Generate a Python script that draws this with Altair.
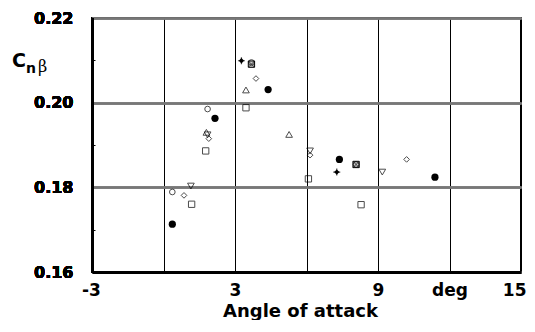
import altair as alt
import pandas as pd

# ---- data ----
filled_circle_x = [0.37, 2.16, 4.39, 7.38, 11.39]
filled_circle_y = [0.1713, 0.1963, 0.2031, 0.1866, 0.1824]

open_circle_x = [0.37, 1.85, 3.69, 8.08]
open_circle_y = [0.1789, 0.1985, 0.2095, 0.1854]

diamond_x = [0.86, 1.90, 3.88, 6.15, 10.20]
diamond_y = [0.1781, 0.1915, 0.2057, 0.1876, 0.1866]

triangle_x = [1.80, 3.46, 5.27]
triangle_y = [0.1930, 0.2030, 0.1925]

inv_triangle_x = [1.15, 1.85, 6.15, 9.18]
inv_triangle_y = [0.1803, 0.1924, 0.1886, 0.1836]

square_x = [1.18, 1.77, 3.46, 6.08, 8.29]
square_y = [0.1760, 0.1886, 0.1988, 0.1820, 0.1759]

boxed_x_x = [3.69, 8.08]
boxed_x_y = [0.2091, 0.1854]

diamond_plus_x = [3.27, 7.27]
diamond_plus_y = [0.2099, 0.1836]

x_ticks = [-3, 0, 3, 6, 9, 12, 15]
x_tick_labels = ["-3", "", "3", "", "9", "deg", "15"]
y_ticks = [0.16, 0.18, 0.20, 0.22]
y_minor = [0.17, 0.19, 0.21]

FONT = "DejaVu Sans"

xscale = alt.Scale(domain=[-3, 15], nice=False, zero=False)
yscale = alt.Scale(domain=[0.16, 0.22], nice=False, zero=False)

label_expr = "[" + ",".join("'" + s + "'" for s in x_tick_labels) + "][indexof(" + str(x_ticks) + ", datum.value)]"

x_axis = alt.Axis(
    values=x_ticks, grid=True, gridColor="#000000", gridWidth=1, gridOpacity=1,
    ticks=False, domain=True, domainColor="#000000", domainWidth=3,
    labelExpr=label_expr,
    labelAlign={"expr": "datum.value == 15 ? 'right' : 'center'"},
    labelOffset={"expr": "datum.value == 15 ? 5 : (datum.value == -3 ? -1 : 0)"},
    labelFont=FONT, labelFontSize=17, labelFontWeight="bold", labelColor="#000000",
    labelPadding=10, title="Angle of attack", titleFont=FONT, titleFontSize=18,
    titleFontWeight="bold", titleColor="#000000", titlePadding=4, titleX=208,
    labelFlush=False, labelOverlap=False,
)
y_axis = alt.Axis(
    values=y_ticks, grid=True, gridColor="#777777", gridWidth=1.5, gridOpacity=1,
    ticks=False, domain=True, domainColor="#000000", domainWidth=3, format=".2f",
    labelFont=FONT, labelFontSize=16, labelFontWeight="bold", labelColor="#000000",
    labelPadding=19, title=None, orient="left",
)
y_minor_axis = alt.Axis(
    values=y_minor, grid=False, ticks=True, tickSize=3, tickColor="#000000", tickWidth=1,
    labels=False, domain=False, title=None, orient="left", offset=-3,
)


def pts(xs, ys, **kw):
    df = pd.DataFrame({"x": xs, "y": ys})
    return alt.Chart(df).mark_point(**kw).encode(
        x=alt.X("x:Q", scale=xscale, axis=x_axis),
        y=alt.Y("y:Q", scale=yscale, axis=y_axis),
    )


layers = [
    pts(square_x, square_y, shape="square", size=40, filled=False, color="#000000", strokeWidth=1),
    pts(boxed_x_x, boxed_x_y, shape="square", size=40, filled=True, fill="#cccccc", stroke="#000000", strokeWidth=1, opacity=1),
    pts(boxed_x_x, boxed_x_y, shape="M-1,-1L1,1M-1,1L1,-1", size=32, filled=False, color="#000000", strokeWidth=1),
    pts(open_circle_x, open_circle_y, shape="circle", size=32, filled=False, color="#000000", strokeWidth=1),
    pts(filled_circle_x, filled_circle_y, shape="circle", size=52, filled=True, color="#000000", opacity=1),
    pts(diamond_x, diamond_y, shape="diamond", size=32, filled=False, color="#000000", strokeWidth=1),
    pts(triangle_x, triangle_y, shape="triangle-up", size=45, filled=False, color="#000000", strokeWidth=1),
    pts(inv_triangle_x, inv_triangle_y, shape="triangle-down", size=45, filled=False, color="#000000", strokeWidth=1),
    pts(diamond_plus_x, diamond_plus_y, shape="diamond", size=28, filled=True, color="#000000", opacity=1),
    pts(diamond_plus_x, diamond_plus_y, shape="M-1,0L1,0M0,-1L0,1", size=49, filled=False, color="#000000", strokeWidth=1.2),
]

minor = alt.Chart(pd.DataFrame({"y": y_minor})).mark_point(opacity=0).encode(
    y=alt.Y("y:Q", scale=yscale, axis=y_minor_axis)
)

lab = pd.DataFrame({"t": ["x"]})
c_txt = alt.Chart(lab).mark_text(text="C", font=FONT, fontSize=19, fontWeight="bold", align="left", baseline="alphabetic", color="#000000").encode(x=alt.value(-80), y=alt.value(49))
n_txt = alt.Chart(lab).mark_text(text="n", font=FONT, fontSize=14, fontWeight="bold", align="left", baseline="alphabetic", color="#000000").encode(x=alt.value(-66), y=alt.value(55))
b_txt = alt.Chart(lab).mark_text(text="β", font="DejaVu Serif", fontSize=16, align="left", baseline="alphabetic", color="#000000").encode(x=alt.value(-54), y=alt.value(54))

chart = alt.layer(*layers, minor, c_txt, n_txt, b_txt).resolve_axis(y="independent").properties(
    width=429, height=254,
    autosize=alt.AutoSizeParams(type="none"),
    padding={"left": 84, "top": 10, "right": 6, "bottom": 48},
    background="#ffffff",
).configure_view(stroke="#000000", strokeWidth=2)

chart.save("out.html", embed_options={"renderer": "svg", "actions": False})
